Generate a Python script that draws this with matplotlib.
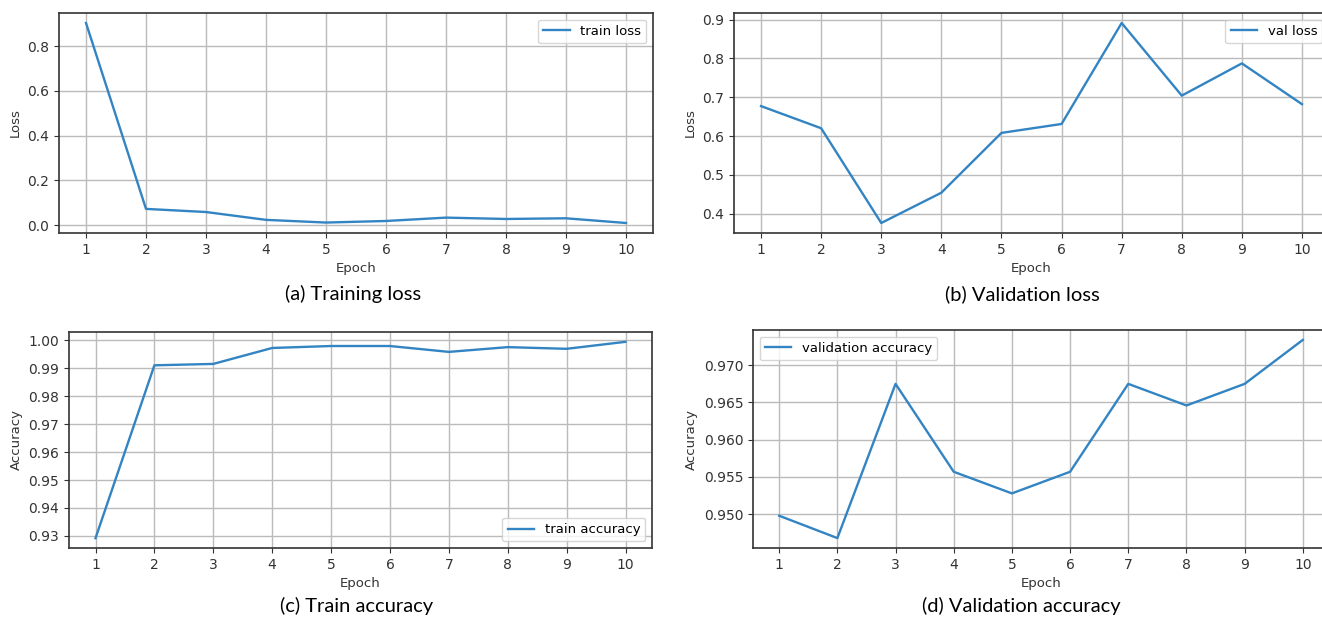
import matplotlib
matplotlib.use("Agg")
import matplotlib.pyplot as plt
from matplotlib.ticker import MultipleLocator, FormatStrFormatter

epochs = [1, 2, 3, 4, 5, 6, 7, 8, 9, 10]
train_loss = [0.903, 0.073, 0.059, 0.024, 0.012, 0.019, 0.034, 0.028, 0.031, 0.010]
val_loss = [0.677, 0.620, 0.376, 0.454, 0.608, 0.631, 0.891, 0.704, 0.787, 0.682]
train_acc = [0.9292, 0.9910, 0.9915, 0.9972, 0.9979, 0.9979, 0.9958, 0.9975, 0.9969, 0.9994]
val_acc = [0.9498, 0.9468, 0.9675, 0.9557, 0.9528, 0.9557, 0.9675, 0.9646, 0.9675, 0.9734]

W, H = 1322, 618
fig = plt.figure(figsize=(W / 100, H / 100), dpi=100)

def box(l, r, t, b):
    return [l / W, (H - b) / H, (r - l) / W, (b - t) / H]

# rect, data, legend, ylabel, legend loc, caption, caption pos, y step, y format
panels = [
    (box(59, 653, 13, 233), train_loss, "train loss", "Loss", "upper right", "(a) Training loss", (353, 294), 0.2, "%.1f"),
    (box(734, 1329, 13, 233), val_loss, "val loss", "Loss", "upper right", "(b) Validation loss", (1022, 294), 0.1, "%.1f"),
    (box(69, 652, 332, 548), train_acc, "train accuracy", "Accuracy", "lower right", "(c) Train accuracy", (357, 606), 0.01, "%.2f"),
    (box(753, 1329, 330, 548), val_acc, "validation accuracy", "Accuracy", "upper left", "(d) Validation accuracy", (1021, 606), 0.005, "%.3f"),
]

for rect, ys, lab, ylab, loc, cap, cpos, step, fmt in panels:
    ax = fig.add_axes(rect)
    ax.plot(epochs, ys, color="#3384c2", lw=1.7, label=lab)
    ax.set_xticks(epochs)
    ax.yaxis.set_major_locator(MultipleLocator(step))
    ax.yaxis.set_major_formatter(FormatStrFormatter(fmt))
    ax.grid(True, color="#bbbbbb", lw=1.0)
    ax.tick_params(labelsize=10, colors="#333333")
    ax.set_xlabel("Epoch", fontsize=9.5, color="#333333")
    ax.set_ylabel(ylab, fontsize=9.5, color="#333333")
    for s in ax.spines.values():
        s.set_color("#333333")
        s.set_linewidth(1.2)
    ax.legend(loc=loc, fontsize=9.5)
    fig.text(cpos[0] / W, 1 - cpos[1] / H, cap, ha="center", va="center",
             fontsize=14.5, family="Lato", color="black")

fig.savefig("out.png", dpi=100)
